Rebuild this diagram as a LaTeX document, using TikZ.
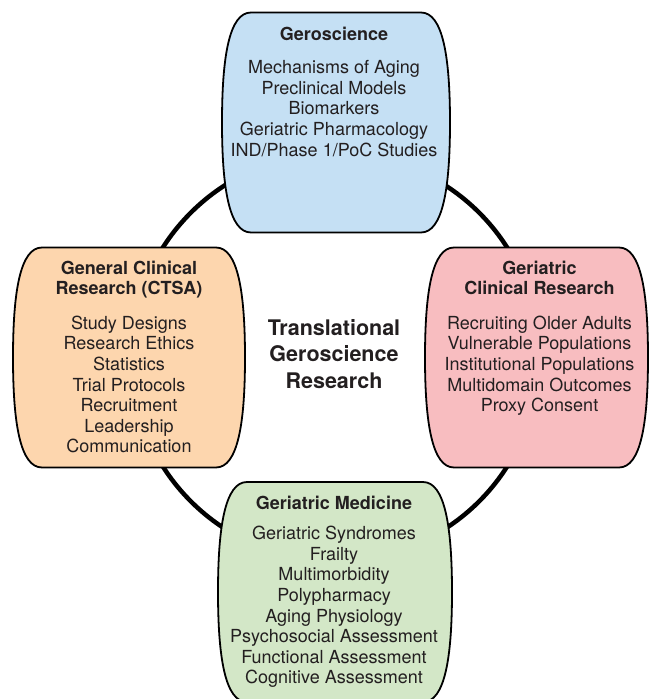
\documentclass[tikz,border=0pt]{standalone}
\usepackage{fontspec}
\setmainfont{TeX Gyre Heros}
\usepackage{xcolor}
\usepackage{tikz}
\definecolor{geoblue}{RGB}{197,224,244}
\definecolor{ctsaorange}{RGB}{253,214,174}
\definecolor{clinpink}{RGB}{248,189,192}
\definecolor{medgreen}{RGB}{211,231,199}
\definecolor{inkgray}{RGB}{35,31,32}
\newcommand{\barrel}[4]{%
\begin{scope}[shift={(#1,#2)}]
\draw [black, line width=1.8pt, fill=#4] ({-#3+29},110) .. controls ({-#3+7},110) and (-#3,65) .. (-#3,0) .. controls (-#3,-65) and ({-#3+7},-110) .. ({-#3+29},-110) -- ({#3-29},-110) .. controls ({#3-7},-110) and (#3,-65) .. (#3,0) .. controls (#3,65) and ({#3-7},110) .. ({#3-29},110) -- cycle;
\end{scope}}

\begin{document}
\begin{tikzpicture}[x=1pt,y=1pt]
\tikzstyle{every node}+=[inner sep=0pt]
\tikzstyle{boxtext}=[anchor=north, align=center, text=inkgray, font=\fontsize{18}{20.6}\selectfont]
\tikzstyle{hubtext}=[anchor=north, align=center, text=inkgray, font=\bfseries\fontsize{21.5}{26.5}\selectfont]
\useasboundingbox (0,0) rectangle (649,-699);
\coordinate (ring) at (335,-357);
\draw [black, line width=4.5pt] (ring) circle (204);
\barrel{336}{-122.5}{114}{geoblue}
\barrel{129}{-357.5}{116}{ctsaorange}
\barrel{536.5}{-357.5}{111.5}{clinpink}
\barrel{335}{-592}{117}{medgreen}
\node [hubtext] (hub) at (334,-319) {Translational\\Geroscience\\Research};
\node [boxtext] (geo) at (334,-26.5) {\textbf{Geroscience}\\[13pt]Mechanisms of Aging\\Preclinical Models\\Biomarkers\\Geriatric Pharmacology\\IND/Phase 1/PoC Studies};
\node [boxtext] (ctsa) at (129,-260.5) {\textbf{General Clinical}\\\textbf{Research (CTSA)}\\[14pt]Study Designs\\Research Ethics\\Statistics\\Trial Protocols\\Recruitment\\Leadership\\Communication};
\node [boxtext] (clin) at (539.5,-260.5) {\textbf{Geriatric}\\\textbf{Clinical Research}\\[14pt]Recruiting Older Adults\\Vulnerable Populations\\Institutional Populations\\Multidomain Outcomes\\Proxy Consent};
\node [boxtext] (med) at (334,-495.5) {\textbf{Geriatric Medicine}\\[10pt]Geriatric Syndromes\\Frailty\\Multimorbidity\\Polypharmacy\\Aging Physiology\\Psychosocial Assessment\\Functional Assessment\\Cognitive Assessment};
\end{tikzpicture}
\end{document}
